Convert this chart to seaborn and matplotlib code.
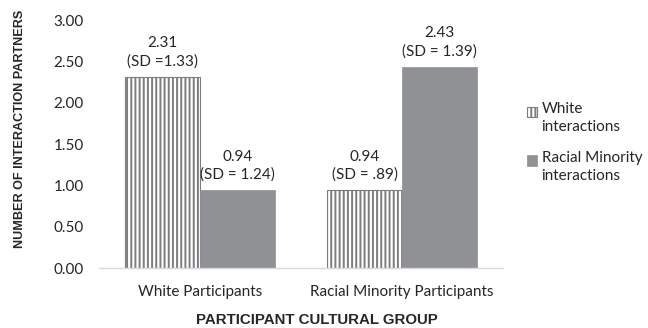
import matplotlib
matplotlib.use("Agg")
import matplotlib.pyplot as plt
import pandas as pd
import seaborn as sns
from matplotlib.legend_handler import HandlerPatch
from matplotlib.patches import Rectangle

# Mean number of interaction partners by participant group
groups = ["White Participants", "Racial Minority Participants"]
series_names = ["White\ninteractions", "Racial Minority\ninteractions"]
white_interactions = [2.31, 0.94]
minority_interactions = [0.94, 2.43]
white_sd_labels = ["(SD =1.33)", "(SD = .89)"]
minority_sd_labels = ["(SD = 1.24)", "(SD = 1.39)"]
y_ticks = [0.0, 0.5, 1.0, 1.5, 2.0, 2.5, 3.0]

df = pd.DataFrame({
    "group": groups * 2,
    "series": [series_names[0]] * 2 + [series_names[1]] * 2,
    "value": white_interactions + minority_interactions,
})

sns.set_theme(style="white")
plt.rcParams["font.family"] = ["Lato", "DejaVu Sans"]
plt.rcParams["hatch.linewidth"] = 1.4

TEXT = "#262626"
GRAY = "#909195"
HATCH = "#7d7d7d"
TITLE_FONT = ["Liberation Sans", "DejaVu Sans"]

fig = plt.figure(figsize=(6.48, 3.28), dpi=100)
ax = fig.add_axes([99 / 648, 60 / 328, 404 / 648, 248 / 328])

sns.barplot(data=df, x="group", y="value", hue="series", order=groups,
            hue_order=series_names, palette=["white", GRAY], width=0.74,
            gap=0, legend=False, ax=ax, saturation=1)

white_bars, minority_bars = ax.containers[0], ax.containers[1]
for p in white_bars:
    p.set_facecolor("white")
    p.set_edgecolor(HATCH)
    p.set_hatch("||||")
    p.set_linewidth(0.8)
for p in minority_bars:
    p.set_facecolor(GRAY)
    p.set_edgecolor(GRAY)
    p.set_linewidth(0.5)

white_labels = [f"{v:.2f}\n{sd}" for v, sd in zip(white_interactions, white_sd_labels)]
minority_labels = [f"{v:.2f}\n{sd}" for v, sd in zip(minority_interactions, minority_sd_labels)]
for cont, labs in ((white_bars, white_labels), (minority_bars, minority_labels)):
    for t in ax.bar_label(cont, labels=labs, padding=6, fontsize=11, color=TEXT):
        t.set_linespacing(1.35)
        t.set_multialignment("center")

ax.set_ylim(0, 3)
ax.set_xlim(-0.5, 1.5)
ax.set_yticks(y_ticks)
ax.set_yticklabels([f"{v:.2f}" for v in y_ticks])
ax.tick_params(axis="both", length=0, labelsize=11, labelcolor=TEXT)
ax.tick_params(axis="y", pad=11)
ax.tick_params(axis="x", pad=12)

for side in ("top", "right", "left"):
    ax.spines[side].set_visible(False)
ax.spines["bottom"].set_color("#d9d9d9")
ax.spines["bottom"].set_linewidth(1)

ax.set_xlabel("PARTICIPANT CULTURAL GROUP", fontsize=10.8, fontweight="bold",
              color=TEXT, family=TITLE_FONT)
ax.xaxis.set_label_coords(0.54, -0.21)
ax.xaxis.label.set_verticalalignment("center")
ax.set_ylabel("NUMBER OF INTERACTION PARTNERS", fontsize=9.1, fontweight="bold",
              color=TEXT, family=TITLE_FONT)
ax.yaxis.set_label_coords(-0.196, 0.56)
ax.yaxis.label.set_verticalalignment("center")


def top_square(legend, orig_handle, xdescent, ydescent, width, height, fontsize):
    s = 0.68 * fontsize
    return Rectangle((-xdescent, -ydescent + height - s), s, s)


leg = ax.legend([white_bars[0], minority_bars[0]], series_names,
                loc="upper left", bbox_to_anchor=(527 / 648, 1 - 102 / 328),
                bbox_transform=fig.transFigure, frameon=False, fontsize=11,
                handlelength=0.7, handleheight=2.0, handletextpad=0.25,
                labelspacing=1.1, borderpad=0, borderaxespad=0,
                handler_map={Rectangle: HandlerPatch(patch_func=top_square)})
for t in leg.get_texts():
    t.set_color(TEXT)
    t.set_linespacing(1.35)

fig.savefig("out.png", dpi=100)
